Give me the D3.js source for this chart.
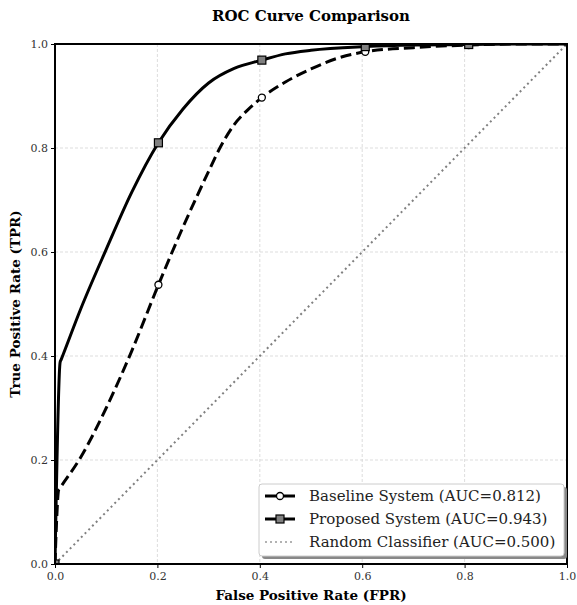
<!DOCTYPE html>
<html>
<head>
<meta charset="utf-8">
<script src="https://cdn.jsdelivr.net/npm/d3@7"></script>
<style>
  body { margin: 0; background: #fff; }
  svg { font-family: "DejaVu Serif", serif; }
</style>
</head>
<body>
<svg width="577" height="605"></svg>
<script>
// ROC points
const baselineFpr = [0, 0.003, 0.007, 0.009, 0.05, 0.1, 0.15, 0.202, 0.25, 0.3, 0.322, 0.35, 0.375, 0.404, 0.45, 0.5, 0.55, 0.606, 0.7, 0.808, 0.9, 1.0];
const baselineTpr = [0, 0.08, 0.142, 0.145, 0.205, 0.3, 0.41, 0.537, 0.648, 0.755, 0.8, 0.845, 0.872, 0.897, 0.927, 0.952, 0.972, 0.985, 0.993, 0.998, 1.0, 1.0];
const proposedFpr = [0, 0.01, 0.012, 0.05, 0.1, 0.15, 0.202, 0.25, 0.3, 0.35, 0.404, 0.45, 0.5, 0.606, 0.7, 0.808, 0.9, 1.0];
const proposedTpr = [0, 0.388, 0.393, 0.49, 0.605, 0.715, 0.81, 0.875, 0.925, 0.953, 0.969, 0.981, 0.988, 0.995, 0.998, 0.999, 1.0, 1.0];
const markerFpr = [0, 0.202, 0.404, 0.606, 0.808];
const ticks = [0, 0.2, 0.4, 0.6, 0.8, 1.0];
const legendLabels = ["Baseline System (AUC=0.812)", "Proposed System (AUC=0.943)", "Random Classifier (AUC=0.500)"];

const svg = d3.select("svg");
const margin = {top: 44, right: 10, bottom: 41, left: 55};
const width = 577 - margin.left - margin.right,
      height = 605 - margin.top - margin.bottom;

const x = d3.scaleLinear().domain([0, 1]).range([0, width]);
const y = d3.scaleLinear().domain([0, 1]).range([height, 0]);

const g = svg.append("g").attr("transform", `translate(${margin.left},${margin.top})`);

svg.append("defs").append("clipPath").attr("id", "clip")
    .append("rect").attr("width", width).attr("height", height);

// grid
g.append("g").selectAll("line").data(ticks).enter().append("line")
    .attr("x1", d => x(d)).attr("x2", d => x(d)).attr("y1", 0).attr("y2", height)
    .attr("stroke", "#d4d4d4").attr("stroke-width", 0.8).attr("stroke-dasharray", "3,2");
g.append("g").selectAll("line").data(ticks).enter().append("line")
    .attr("y1", d => y(d)).attr("y2", d => y(d)).attr("x1", 0).attr("x2", width)
    .attr("stroke", "#d4d4d4").attr("stroke-width", 0.8).attr("stroke-dasharray", "3,2");

const plot = g.append("g").attr("clip-path", "url(#clip)");

const line = d3.line().x(d => x(d[0])).y(d => y(d[1])).curve(d3.curveMonotoneX);

const baseline = baselineFpr.map((f, i) => [f, baselineTpr[i]]);
const proposed = proposedFpr.map((f, i) => [f, proposedTpr[i]]);

// random classifier
plot.append("path").datum([[0, 0], [1, 1]])
    .attr("d", d3.line().x(d => x(d[0])).y(d => y(d[1])))
    .attr("fill", "none").attr("stroke", "#808080").attr("stroke-width", 2)
    .attr("stroke-dasharray", "2,3.3");

plot.append("path").datum(baseline).attr("d", line)
    .attr("fill", "none").attr("stroke", "#000").attr("stroke-width", 3)
    .attr("stroke-dasharray", "11,5");

plot.append("path").datum(proposed).attr("d", line)
    .attr("fill", "none").attr("stroke", "#000").attr("stroke-width", 3);

// markers on the interpolated curves
function interp(xs, ys, f) {
  const i = Math.max(1, d3.bisectLeft(xs, f));
  if (xs[i] === f) return ys[i];
  const t = (f - xs[i - 1]) / (xs[i] - xs[i - 1]);
  return ys[i - 1] + t * (ys[i] - ys[i - 1]);
}

plot.selectAll(".mb").data(markerFpr).enter().append("circle")
    .attr("cx", d => x(d)).attr("cy", d => y(interp(baselineFpr, baselineTpr, d)))
    .attr("r", 3.5).attr("fill", "#fff").attr("stroke", "#000").attr("stroke-width", 1.3);

plot.selectAll(".mp").data(markerFpr).enter().append("rect")
    .attr("x", d => x(d) - 4).attr("y", d => y(interp(proposedFpr, proposedTpr, d)) - 4)
    .attr("width", 8).attr("height", 8)
    .attr("fill", "#808080").attr("stroke", "#000").attr("stroke-width", 1.2);

// axes
const xAxis = g.append("g").attr("transform", `translate(0,${height})`)
    .call(d3.axisBottom(x).tickValues(ticks).tickFormat(d3.format(".1f")).tickSize(4));
const yAxis = g.append("g")
    .call(d3.axisLeft(y).tickValues(ticks).tickFormat(d3.format(".1f")).tickSize(4));
[xAxis, yAxis].forEach(a => {
  a.select(".domain").remove();
  a.selectAll("text").attr("font-family", "DejaVu Serif").attr("font-size", 11).attr("fill", "#333");
  a.selectAll("line").attr("stroke", "#000");
});
xAxis.selectAll("text").attr("dy", "0.85em");

// frame
g.append("rect").attr("width", width).attr("height", height)
    .attr("fill", "none").attr("stroke", "#000").attr("stroke-width", 2);

// labels
svg.append("text").attr("x", margin.left + width / 2).attr("y", 21)
    .attr("text-anchor", "middle").attr("font-weight", "bold").attr("font-size", 15)
    .text("ROC Curve Comparison");
svg.append("text").attr("x", margin.left + width / 2).attr("y", 600)
    .attr("text-anchor", "middle").attr("font-weight", "bold").attr("font-size", 13.5)
    .text("False Positive Rate (FPR)");
svg.append("text").attr("transform", `translate(20,${margin.top + height / 2}) rotate(-90)`)
    .attr("text-anchor", "middle").attr("font-weight", "bold").attr("font-size", 13.5)
    .text("True Positive Rate (TPR)");

// legend
const lg = svg.append("g").attr("transform", "translate(259,484)");
lg.append("rect").attr("x", 3).attr("y", 3).attr("width", 305).attr("height", 72)
    .attr("rx", 3).attr("fill", "#888");
lg.append("rect").attr("width", 305).attr("height", 72).attr("rx", 3)
    .attr("fill", "#fff").attr("stroke", "#ccc").attr("stroke-width", 1);

const rows = lg.selectAll(".row").data(legendLabels).enter().append("g")
    .attr("transform", (d, i) => `translate(0,${12 + i * 23})`);
rows.append("line").attr("x1", 6).attr("x2", 36).attr("y1", 0).attr("y2", 0)
    .attr("stroke", (d, i) => i === 2 ? "#999" : "#000")
    .attr("stroke-width", (d, i) => i === 2 ? 1.3 : 3)
    .attr("stroke-dasharray", (d, i) => i === 2 ? "2,3" : null);
rows.filter((d, i) => i === 0).append("circle").attr("cx", 21).attr("r", 3.5)
    .attr("fill", "#fff").attr("stroke", "#000").attr("stroke-width", 1.3);
rows.filter((d, i) => i === 1).append("rect").attr("x", 17).attr("y", -4).attr("width", 8).attr("height", 8)
    .attr("fill", "#808080").attr("stroke", "#000").attr("stroke-width", 1.2);
rows.append("text").attr("x", 50).attr("dy", "0.35em").attr("font-size", 15).attr("fill", "#222")
    .text(d => d);
</script>
</body>
</html>
